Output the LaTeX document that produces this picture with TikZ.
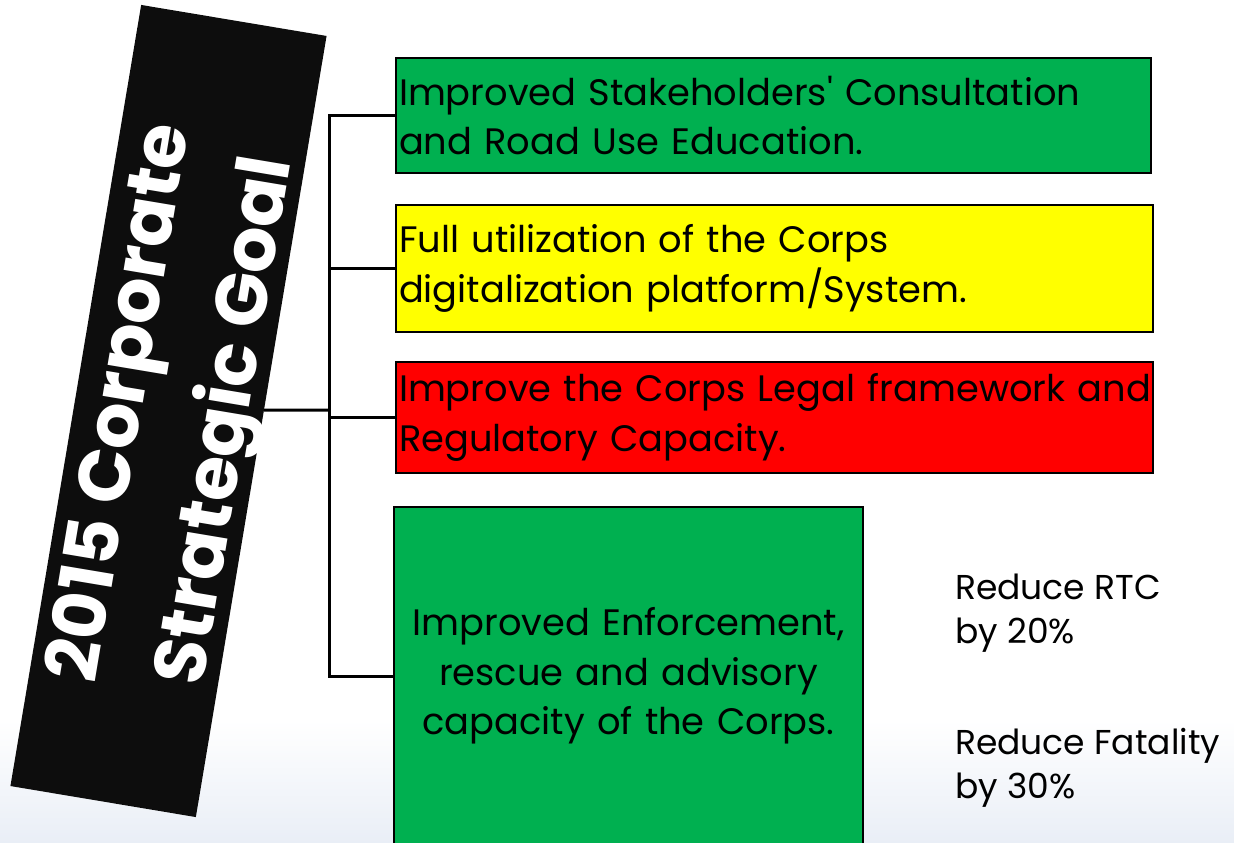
\documentclass[tikz,border=0pt]{standalone}
\usepackage{fontspec}
\setmainfont{Poppins}
\usetikzlibrary{calc}
\definecolor{pgreen}{HTML}{00B050}
\definecolor{pyellow}{HTML}{FFFF00}
\definecolor{pred}{HTML}{FF0000}
\definecolor{goalblack}{HTML}{0D0D0D}
\definecolor{bgblue}{HTML}{E9EEF6}
\newcommand{\boxfont}{\fontsize{36.8}{49.5}\selectfont}
\newcommand{\notefont}{\fontsize{34.5}{44}\selectfont}
\begin{document}
\begin{tikzpicture}[x=1pt,y=-1pt,
  conn/.style={draw=black,line width=3pt},
  tbox/.style={draw=black,line width=2pt,inner xsep=3pt,inner ysep=0pt,anchor=north west,font=\boxfont},
  goalbox/.style={fill=goalblack,inner sep=0pt},
  goaltext/.style={text=white,font=\fontsize{73}{106}\selectfont\bfseries,align=center,inner sep=0pt},
  note/.style={anchor=north west,align=left,font=\notefont,inner sep=0pt}
]
\useasboundingbox (0,0) rectangle (1234,843);
\clip (0,0) rectangle (1234,843);
\shade[top color=white,bottom color=bgblue] (0,720) rectangle (1234,843);

\node[goalbox,rotate=80.5,minimum width=792pt,minimum height=188pt] (goal) at (168.5,411) {};
\node[goaltext,rotate=80.5] (goaltxt) at ($(goal.center)+(9,1.5)$) {2015 Corporate\\Strategic Goal};

\node[tbox,fill=pgreen,minimum width=755pt,minimum height=115pt,text width=749pt,align=left] (b1) at (395,57)
  {\mbox{Improved Stakeholders\textquotesingle{} Consultation}\\\mbox{and Road Use Education.}};
\node[tbox,fill=pyellow,minimum width=757pt,minimum height=127pt,text width=751pt,align=left] (b2) at (395,204)
  {\mbox{Full utilization of the Corps}\\\mbox{digitalization platform/System.}};
\node[tbox,fill=pred,minimum width=757pt,minimum height=111pt,text width=751pt,align=left] (b3) at (395,361)
  {\mbox{Improve the Corps Legal framework and}\\\mbox{Regulatory Capacity.}};
\node[tbox,fill=pgreen,minimum width=469pt,minimum height=338pt,text width=463pt,align=center] (b4) at (393,506)
  {\mbox{Improved Enforcement,}\\rescue and advisory\\capacity of the Corps.};

\node[note] (n1) at (955,574) {Reduce RTC\\by 20\%};
\node[note] (n2) at (955,728) {Reduce Fatality\\by 30\%};

\coordinate (gstart) at ($(goal.south east)!0.479!(goal.south west)$);
\coordinate (hub) at (329,410);
\draw[conn] (gstart) -- (hub);
\draw[conn] (hub) |- (b1.west);
\draw[conn] (hub) |- (b2.west);
\draw[conn] (hub) |- (b3.west);
\draw[conn] (hub) |- (b4.west);
\end{tikzpicture}
\end{document}
